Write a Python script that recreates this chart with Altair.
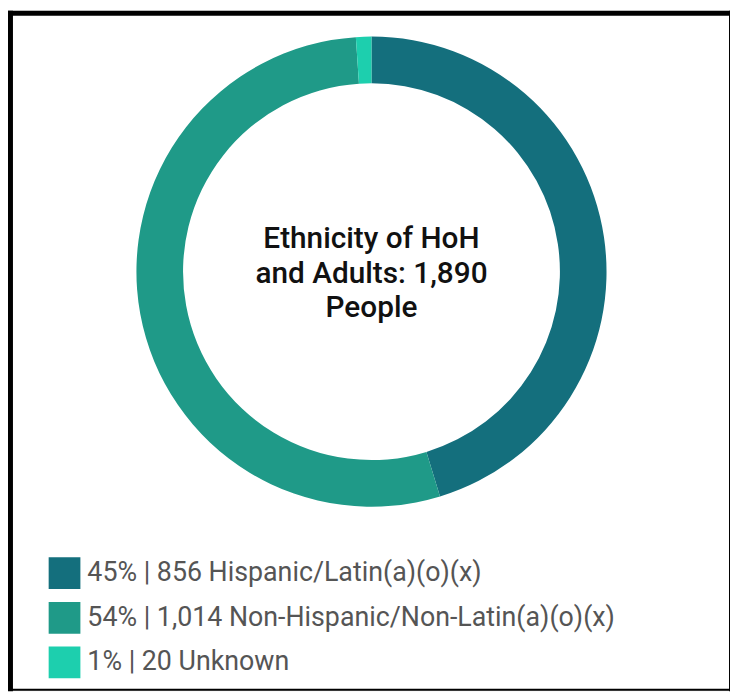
import altair as alt
import pandas as pd

categories = ["Hispanic/Latin(a)(o)(x)", "Non-Hispanic/Non-Latin(a)(o)(x)", "Unknown"]
counts = [856, 1014, 20]
percents = ["45%", "54%", "1%"]
colors = ["#146F7D", "#1F9A88", "#1DCFAE"]
center_lines = ["Ethnicity of HoH", "and Adults: 1,890", "People"]

labels = [f"{p} | {c:,} {n}" for p, c, n in zip(percents, counts, categories)]
df = pd.DataFrame({"label": labels, "count": counts, "order": list(range(len(counts)))})

W, H = 728, 685
CX, CY = 366.5, 263

arc = alt.Chart(df).mark_arc(outerRadius=237, innerRadius=190, stroke=None).encode(
    theta=alt.Theta("count:Q", stack=True),
    order=alt.Order("order:Q"),
    color=alt.Color(
        "label:N",
        sort=labels,
        scale=alt.Scale(domain=labels, range=colors),
        legend=alt.Legend(
            title=None,
            orient="none",
            legendX=41,
            legendY=551,
            symbolType="square",
            symbolSize=1024,
            symbolStrokeWidth=0,
            symbolOpacity=1,
            labelFont="Roboto",
            labelFontSize=27,
            labelColor="#555555",
            labelLimit=0,
            labelOffset=7,
            rowPadding=13,
        ),
    ),
    x=alt.value(CX),
    y=alt.value(CY),
)

txt_df = pd.DataFrame({"line": [center_lines], "k": [0]})
center = alt.Chart(txt_df).mark_text(
    font="Roboto", fontSize=30, fontWeight=500, color="#111111",
    lineHeight=35, align="center", baseline="middle"
).encode(text="line:N", x=alt.value(CX), y=alt.value(CY - 33))

border_df = pd.DataFrame({"k": [0]})
left = alt.Chart(border_df).mark_rule(color="black", strokeWidth=5).encode(
    x=alt.value(2.5), y=alt.value(0), y2=alt.value(686))
top = alt.Chart(border_df).mark_rule(color="black", strokeWidth=5).encode(
    y=alt.value(2.5), x=alt.value(0), x2=alt.value(730))
right = alt.Chart(border_df).mark_rule(color="black", strokeWidth=2).encode(
    x=alt.value(728), y=alt.value(0), y2=alt.value(686))
bottom = alt.Chart(border_df).mark_rule(color="black", strokeWidth=2).encode(
    y=alt.value(684.5), x=alt.value(0), x2=alt.value(730))

chart = alt.layer(arc, center, left, top, right, bottom).properties(
    width=W, height=H, autosize=alt.AutoSizeParams(type="none"), padding=0
).configure_view(stroke=None).configure(background="white")

chart.save("out.html", embed_options={"renderer": "svg", "actions": False})
